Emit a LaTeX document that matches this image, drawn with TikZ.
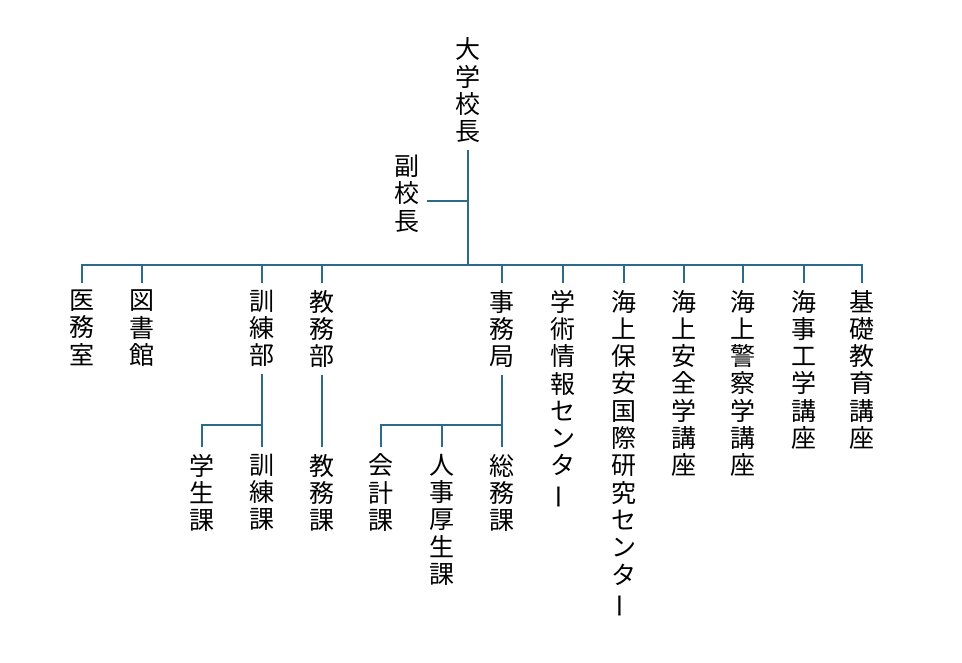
\documentclass[tikz,border=0pt]{standalone}
\usepackage{fontspec}
\setmainfont{Noto Sans CJK JP}
\usepackage{graphicx}
\definecolor{orgline}{RGB}{44,106,138}
\newcommand{\chonpu}{\rotatebox[origin=c]{90}{ー}}
\tikzset{
        post/.style={align=center, inner sep=0pt, outer sep=7pt, anchor=north,
            font=\fontsize{25}{27.3}\selectfont},
        link/.style={draw=orgline, line width=1.8pt}
    }

\begin{document}
\begin{tikzpicture}[x=1pt,y=-1pt]
            \useasboundingbox (0,0) rectangle (962,662);
            \node [post] (pres) at (468, 31) {大\\学\\校\\長};
            \node [post] (vice) at (407,148) {副\\校\\長};

            \node [post] (ime)       at ( 82,283) {医\\務\\室};
            \node [post] (tosho)     at (142,283) {図\\書\\館};
            \node [post] (kunren)    at (262,283) {訓\\練\\部};
            \node [post] (kyomu)     at (322,283) {教\\務\\部};
            \node [post] (jimu)      at (502,283) {事\\務\\局};
            \node [post] (gakujutsu) at (563,283) {学\\術\\情\\報\\セ\\ン\\タ\\\chonpu};
            \node [post] (kaiho)     at (624,283) {海\\上\\保\\安\\国\\際\\研\\究\\セ\\ン\\タ\\\chonpu};
            \node [post] (anzen)     at (684,283) {海\\上\\安\\全\\学\\講\\座};
            \node [post] (keisatsu)  at (743,283) {海\\上\\警\\察\\学\\講\\座};
            \node [post] (kaiji)     at (804,283) {海\\事\\工\\学\\講\\座};
            \node [post] (kiso)      at (862,283) {基\\礎\\教\\育\\講\\座};

            \node [post] (gakusei)   at (202,447) {学\\生\\課};
            \node [post] (kunrenka)  at (262,447) {訓\\練\\課};
            \node [post] (kyomuka)   at (322,447) {教\\務\\課};
            \node [post] (kaikei)    at (381,447) {会\\計\\課};
            \node [post] (jinji)     at (442,447) {人\\事\\厚\\生\\課};
            \node [post] (somu)      at (502,447) {総\\務\\課};

            \coordinate (bar)   at (468,265);
            \coordinate (vicej) at (468,201);
            \coordinate (kbar)  at (262,425);
            \coordinate (jbar)  at (502,425);

            \draw [link] (pres) -- (bar);
            \draw [link] (vicej) -- (vicej -| vice.east);
            \draw [link] (ime.north) |- (bar) -| (kiso.north);
            \foreach \n in {tosho,kunren,kyomu,jimu,gakujutsu,kaiho,anzen,keisatsu,kaiji}
                \draw [link] (\n |- bar) -- (\n.north);

            \draw [link] (kunren) -- (kunrenka);
            \draw [link] (gakusei.north) |- (kbar);
            \draw [link] (kyomu) -- (kyomuka);
            \draw [link] (jimu) -- (somu);
            \draw [link] (kaikei.north) |- (jbar);
            \draw [link] (jinji.north) -- (jinji |- jbar);
        \end{tikzpicture}
\end{document}
